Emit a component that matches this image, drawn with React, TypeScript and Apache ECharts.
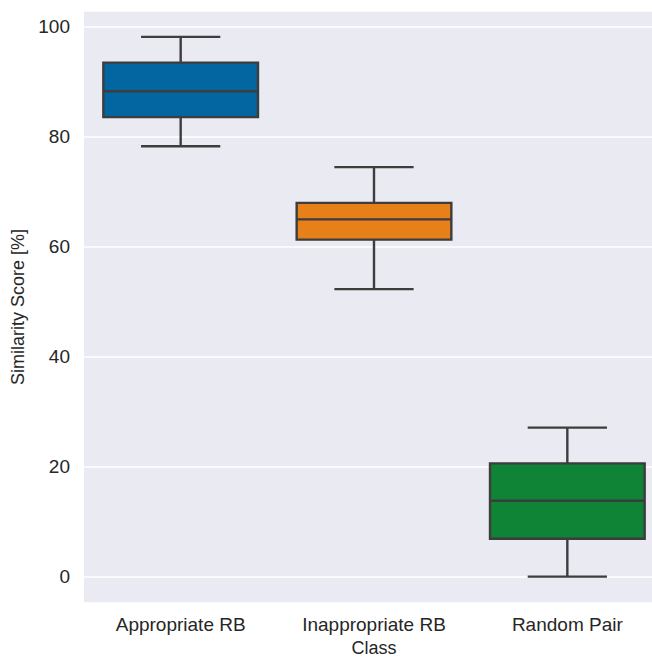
import React, { useEffect, useRef } from "react";
import * as echarts from "echarts";

const categories = ["Appropriate RB", "Inappropriate RB", "Random Pair"];
// [min, Q1, median, Q3, max]
const boxStats = [
  [78.3, 83.6, 88.3, 93.5, 98.2],
  [52.3, 61.3, 65.0, 68.0, 74.5],
  [0.0, 6.9, 13.8, 20.6, 27.1],
];
const boxColors = ["#0466A0", "#E8801A", "#0F8336"];
const yTicks = [0, 20, 40, 60, 80, 100];

export default function App() {
  const ref = useRef<HTMLDivElement>(null);
  useEffect(() => {
    if (!ref.current) return;
    const chart = echarts.init(ref.current, undefined, { renderer: "svg" });
    const edge = "#3d3d3d";
    const font = "Liberation Sans, Arial, sans-serif";
    chart.setOption({
      animation: false,
      grid: {
        left: 84,
        right: -12,
        top: 11,
        bottom: 55,
        show: true,
        backgroundColor: "#EAEAF2",
        borderWidth: 0,
        containLabel: false,
        outerBoundsMode: "none",
      },
      xAxis: {
        type: "category",
        data: categories,
        boundaryGap: true,
        axisLine: { show: false },
        axisTick: { show: false },
        splitLine: { show: false },
        axisLabel: { color: "#262626", fontSize: 19, fontFamily: font, margin: 12 },
        name: "Class",
        nameLocation: "middle",
        nameGap: 36,
        nameTextStyle: { color: "#262626", fontSize: 18, fontFamily: font },
      },
      yAxis: {
        type: "value",
        min: -4.8,
        max: 102.9,
        splitNumber: 5,
        axisLine: { show: false },
        axisTick: { show: false },
        axisLabel: {
          color: "#262626",
          fontSize: 19,
          fontFamily: font,
          margin: 14,
          showMinLabel: false,
          showMaxLabel: false,
          formatter: (v: number) => (yTicks.includes(Math.round(v * 1000) / 1000) ? String(v) : ""),
        },
        splitLine: { show: true, lineStyle: { color: "#ffffff", width: 1.5 } },
        name: "Similarity Score [%]",
        nameLocation: "middle",
        nameGap: 54,
        nameTextStyle: { color: "#262626", fontSize: 18, fontFamily: font },
      },
      series: [
        {
          type: "custom",
          data: boxStats.map((s, i) => [i, ...s]),
          encode: { x: 0, y: [1, 2, 3, 4, 5] },
          renderItem: (params: any, api: any) => {
            const idx = api.value(0);
            const mn = api.coord([idx, api.value(1)]);
            const q1 = api.coord([idx, api.value(2)]);
            const md = api.coord([idx, api.value(3)]);
            const q3 = api.coord([idx, api.value(4)]);
            const mx = api.coord([idx, api.value(5)]);
            const band = api.size([1, 0])[0];
            const bw = band * 0.8;
            const cw = band * 0.41;
            const cx = mn[0];
            const lw = 2.4;
            const ls = { stroke: edge, lineWidth: lw, fill: null };
            return {
              type: "group",
              children: [
                { type: "line", shape: { x1: cx, y1: q3[1], x2: cx, y2: mx[1] }, style: ls },
                { type: "line", shape: { x1: cx, y1: q1[1], x2: cx, y2: mn[1] }, style: ls },
                { type: "line", shape: { x1: cx - cw / 2, y1: mx[1], x2: cx + cw / 2, y2: mx[1] }, style: ls },
                { type: "line", shape: { x1: cx - cw / 2, y1: mn[1], x2: cx + cw / 2, y2: mn[1] }, style: ls },
                {
                  type: "rect",
                  shape: { x: cx - bw / 2, y: q3[1], width: bw, height: q1[1] - q3[1] },
                  style: { fill: boxColors[idx], stroke: edge, lineWidth: lw },
                },
                { type: "line", shape: { x1: cx - bw / 2, y1: md[1], x2: cx + bw / 2, y2: md[1] }, style: ls },
              ],
            };
          },
        },
      ],
    });
    return () => chart.dispose();
  }, []);
  return (
    <div
      ref={ref}
      style={{ position: "fixed", left: 0, top: 0, width: 652, height: 658, background: "#ffffff" }}
    />
  );
}
